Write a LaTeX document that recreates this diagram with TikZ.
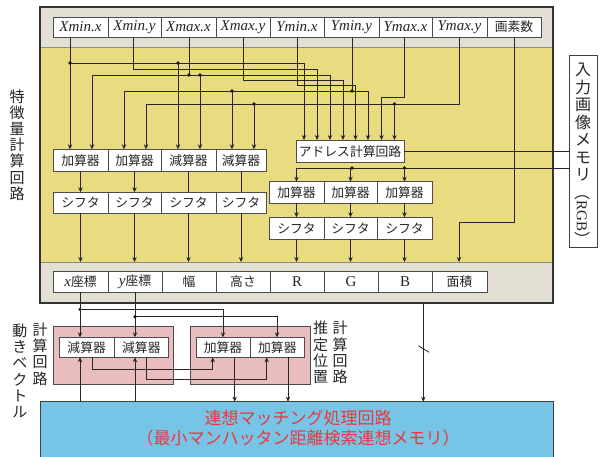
\documentclass[tikz,border=0pt]{standalone}
\usepackage{fontspec}
\setmainfont{Liberation Serif}
\newfontfamily\jp{Noto Sans CJK JP}
\usetikzlibrary{arrows.meta}
\definecolor{graybg}{HTML}{E3DFD3}
\definecolor{yellowbg}{HTML}{E8DB80}
\definecolor{pinkbg}{HTML}{E9BCBE}
\definecolor{bluebg}{HTML}{76C5E6}
\definecolor{redtxt}{HTML}{E8383D}
\newcommand\mybox[7][]{\node[#1, minimum width={(#4)-(#3)}, minimum height={(#6)-(#5)}] (#2) at ({((#3)+(#4))/2},{((#5)+(#6))/2}) {#7};}
\begin{document}
\begin{tikzpicture}[x=1pt,y=-1pt,
  boxbase/.style={inner sep=0pt, outer sep=0pt},
  framebox/.style={boxbase, fill=graybg},
  corebox/.style={boxbase, fill=yellowbg, draw=black!45, line width=0.5pt},
  pinkbox/.style={boxbase, fill=pinkbg, draw=black!70, line width=0.8pt},
  bluebox/.style={boxbase, fill=bluebg, draw=black!75, line width=1pt},
  membox/.style={boxbase, fill=white, draw=black!75, line width=0.8pt},
  cell/.style={boxbase, fill=white, draw=black!70, line width=0.8pt, text=black!85, font=\jp\fontsize{12.8}{12.8}\selectfont},
  regcell/.style={cell, font=\itshape\fontsize{15}{15}\selectfont},
  wire/.style={draw=black!85, line width=0.75pt},
  arr/.style={wire, -{Stealth[length=5pt,width=4.4pt]}},
  jdot/.style={circle, fill=black!90, inner sep=0pt, minimum size=3.6pt},
  vtext/.style={font=\jp\fontsize{15}{16.2}\selectfont, align=center, inner sep=0pt, text=black!85},
]
\useasboundingbox (0,0) rectangle (600,456);
% backgrounds
\mybox[framebox]{frame}{40}{553}{7}{303}{}
\mybox[corebox]{core}{40}{553}{47}{262}{}
\draw[black!80, line width=1.2pt] (frame.north west) rectangle (frame.south east);
\mybox[pinkbox]{pinkL}{53.7}{173.7}{326.7}{384.3}{}
\mybox[pinkbox]{pinkR}{190}{310}{326.7}{384.3}{}
\mybox[bluebox]{blue}{40}{553}{401.7}{470}{}
\mybox[membox]{mem}{569}{597.5}{55}{247}{}

% ---------- wires (upper) ----------
% Xmin.x
\draw[arr] (70,37) -- (70,149.3);
\draw[arr] (70,63) -| (304,140);
\draw[arr] (178,63) -- (178,149.3);
% Xmin.y
\draw[arr] (133,37) |- (317,69) -- (317,140);
% Xmax.x
\draw[wire] (189,37) -- (189,75);
\draw[arr] (92,75) -- (92,149.3);
\draw[arr] (92,75) -| (330,140);
\draw[arr] (200,75) -- (200,149.3);
% Xmax.y
\draw[arr] (243,37) |- (343,80) -- (343,140);
% Ymin.x
\draw[arr] (297,37) |- (355.5,85) -- (355.5,140);
% Ymin.y
\draw[wire] (352,37) -- (352,91);
\draw[arr] (124,91) -- (124,149.3);
\draw[arr] (124,91) -| (368,140);
\draw[arr] (232,91) -- (232,149.3);
% Ymax.x
\draw[arr] (404,37) |- (381.5,97) -- (381.5,140);
% Ymax.y
\draw[wire] (459,37) |- (146,104);
\draw[arr] (146,104) -- (146,149.3);
\draw[arr] (254,104) -- (254,149.3);
\draw[arr] (394.5,104) -- (394.5,140);
% pixel count
\draw[arr] (514,37) |- (459,222) -- (459,262);

% top register cells
\mybox[regcell]{t1}{53}{108}{17}{37}{Xmin.x}
\mybox[regcell]{t2}{108}{161}{17}{37}{Xmin.y}
\mybox[regcell]{t3}{161}{216}{17}{37}{Xmax.x}
\mybox[regcell]{t4}{216}{270}{17}{37}{Xmax.y}
\mybox[regcell]{t5}{270}{324}{17}{37}{Ymin.x}
\mybox[regcell]{t6}{324}{379}{17}{37}{Ymin.y}
\mybox[regcell]{t7}{379}{432}{17}{37}{Ymax.x}
\mybox[regcell]{t8}{432}{487}{17}{37}{Ymax.y}
\mybox[cell]{t9}{487}{541}{17}{37}{画素数}

% left chain
\mybox[cell]{la1}{53}{108}{149.3}{171.7}{加算器}
\mybox[cell]{la2}{108}{161}{149.3}{171.7}{加算器}
\mybox[cell]{la3}{161}{216}{149.3}{171.7}{減算器}
\mybox[cell]{la4}{216}{266}{149.3}{171.7}{減算器}
\mybox[cell]{ls1}{53}{108}{192.3}{213.3}{シフタ}
\mybox[cell]{ls2}{108}{161}{192.3}{213.3}{シフタ}
\mybox[cell]{ls3}{161}{216}{192.3}{213.3}{シフタ}
\mybox[cell]{ls4}{216}{266}{192.3}{213.3}{シフタ}
\draw[arr] (la1.south) -- (ls1.north);
\draw[arr] (la2.south) -- (ls2.north);
\draw[wire] (la3.south) -- (ls3.north);
\draw[wire] (la4.south) -- (ls4.north);
\foreach \i in {1,2,3,4} {\draw[arr] (ls\i.south) -- (ls\i.south |- core.south);}

% address & right chain
\mybox[cell]{addr}{296}{404}{140}{162.3}{アドレス計算回路}
\mybox[cell]{ra1}{269}{324}{181.7}{203.3}{加算器}
\mybox[cell]{ra2}{324}{377}{181.7}{203.3}{加算器}
\mybox[cell]{ra3}{377}{432}{181.7}{203.3}{加算器}
\mybox[cell]{rs1}{269}{324}{217.3}{239.3}{シフタ}
\mybox[cell]{rs2}{324}{377}{217.3}{239.3}{シフタ}
\mybox[cell]{rs3}{377}{432}{217.3}{239.3}{シフタ}
\draw[wire] (addr.east) -- (addr.east -| mem.west);
\draw[arr] (mem.west |- 0,168) -| (ra1.north);
\draw[arr] (ra2.north |- 0,168) -- (ra2.north);
\draw[arr] (ra3.north |- 0,168) -- (ra3.north);
\foreach \i in {1,2,3} {
  \draw[arr] (ra\i.south) -- (rs\i.north);
  \draw[arr] (rs\i.south) -- (rs\i.south |- core.south);
}

% output register
\mybox[cell]{o1}{53}{108}{271.7}{292.3}{{\rmfamily\itshape\fontsize{15}{15}\selectfont x}座標}
\mybox[cell]{o2}{108}{162}{271.7}{292.3}{{\rmfamily\itshape\fontsize{15}{15}\selectfont y}座標}
\mybox[cell]{o3}{162}{216}{271.7}{292.3}{幅}
\mybox[cell]{o4}{216}{270}{271.7}{292.3}{高さ}
\mybox[cell]{o5}{270}{324}{271.7}{292.3}{\rmfamily\fontsize{15}{15}\selectfont R}
\mybox[cell]{o6}{324}{378}{271.7}{292.3}{\rmfamily\fontsize{15}{15}\selectfont G}
\mybox[cell]{o7}{378}{432}{271.7}{292.3}{\rmfamily\fontsize{15}{15}\selectfont B}
\mybox[cell]{o8}{432}{487}{271.7}{292.3}{面積}

% ---------- lower part ----------
\mybox[cell]{sb1}{59.3}{114}{337.3}{357.3}{減算器}
\mybox[cell]{sb2}{114}{168.7}{337.3}{357.3}{減算器}
\mybox[cell]{ad1}{196}{250}{337.3}{357.3}{加算器}
\mybox[cell]{ad2}{250}{304.7}{337.3}{357.3}{加算器}
\draw[arr] (80,0 |- o1.south) -- (80,0 |- sb1.north);
\draw[arr] (135,0 |- o2.south) -- (135,0 |- sb2.north);
\draw[arr] (80,309.3) -| (223,0 |- ad1.north);
\draw[arr] (135,316.7) -| (277,0 |- ad2.north);
\draw[arr] (80,0 |- blue.north) -- (80,0 |- sb1.south);
\draw[arr] (135,0 |- blue.north) -- (135,0 |- sb2.south);
\draw[arr] (92,0 |- sb1.south) |- (212.7,369.3) -- (212.7,0 |- ad1.south);
\draw[arr] (146.7,0 |- sb2.south) |- (266.7,379.3) -- (266.7,0 |- ad2.south);
\draw[arr] (234.7,0 |- ad1.south) -- (234.7,0 |- blue.north);
\draw[arr] (288,0 |- ad2.south) -- (288,0 |- blue.north);
\draw[arr] (423.3,0 |- frame.south) -- (423.3,0 |- blue.north);
\draw[wire] (418.3,345.7) -- (429,352.3);

% junction dots
\foreach \p/\n in {70/63, 178/63, 189/75, 200/75, 232/91, 352/91, 254/104, 394.5/104, 352/168, 404.5/168, 80/309.3, 135/316.7}
  \node[jdot] at (\p,\n) {};

% texts
\node[font=\jp\fontsize{17}{20}\selectfont, text=redtxt, align=center, inner sep=0pt] (bluetxt) at (298,428.5)
  {連想マッチング処理回路\\（最小マンハッタン距離検索連想メモリ）};
\node[vtext] (lblfeat) at (17,145) {特\\徴\\量\\計\\算\\回\\路};
\node[vtext] (lblmove) at (20,371) {動\\き\\ベ\\ク\\ト\\ル};
\node[vtext] (lblcalcL) at (40,354) {計\\算\\回\\路};
\node[vtext] (lblest) at (320.7,352.5) {推\\定\\位\\置};
\node[vtext] (lblcalcR) at (340,352.5) {計\\算\\回\\路};
\node[vtext, font=\jp\fontsize{16}{17.5}\selectfont] (lblmem) at (583,122.5) {入\\力\\画\\像\\メ\\モ\\リ};
\node[inner sep=0pt, rotate=-90, text=black!85] (lblrgb) at (583,216) {{\jp\fontsize{16}{16}\selectfont （}{\fontsize{15}{15}\selectfont RGB}{\jp\fontsize{16}{16}\selectfont ）}};
\end{tikzpicture}
\end{document}
